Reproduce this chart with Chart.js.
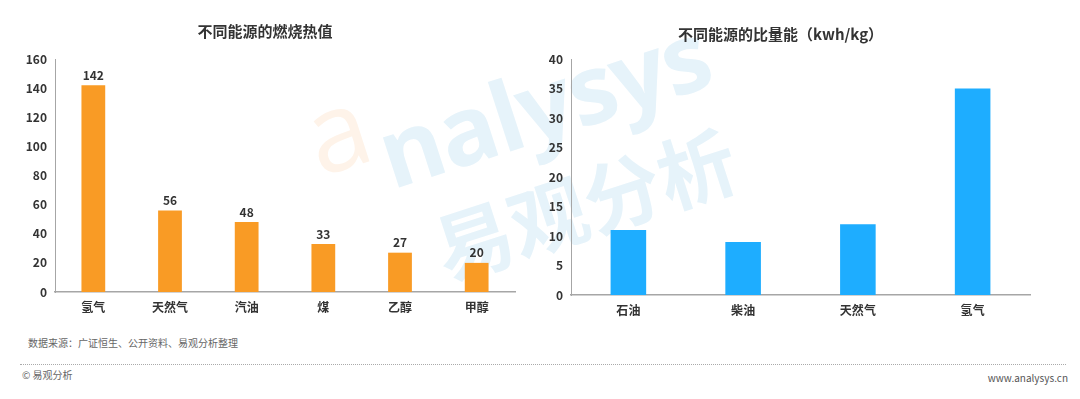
<!DOCTYPE html>
<html>
<head>
<meta charset="utf-8">
<script src="https://cdn.jsdelivr.net/npm/chart.js@4/dist/chart.umd.min.js"></script>
<style>
  html, body { margin: 0; padding: 0; background: #fff; }
  body { width: 1080px; height: 399px; position: relative; overflow: hidden;
         font-family: "Noto Sans CJK SC", "Noto Sans", sans-serif; }
  .box { position: absolute; }
  .wm { position: absolute; white-space: nowrap; pointer-events: none; font-weight: 700; }
  .note { position: absolute; font-size: 10px; color: #666; white-space: nowrap; }
  .rule { position: absolute; left: 20px; right: 14px; top: 364px; border-top: 1px dotted #aaa; }
</style>
</head>
<body>
<!-- faint watermark behind the charts -->
<div class="wm" style="left:305px;top:52px;font-size:110px;color:#fef3e9;transform:rotate(-18deg);font-family:'Open Sans',sans-serif;font-weight:400;">a</div>
<div class="wm" style="left:372px;top:36px;font-size:96px;color:#e6f3fa;transform:rotate(-18deg);font-family:'Open Sans',sans-serif;letter-spacing:-2px;">nalysys</div>
<div class="wm" style="left:428px;top:145px;font-size:78px;color:#e6f3fa;transform:rotate(-18deg);">易观分析</div>

<div class="box" style="left:15px;top:6px;width:520px;height:316px;"><canvas id="chart-heat"></canvas></div>
<div class="box" style="left:531px;top:6px;width:524px;height:319px;"><canvas id="chart-energy"></canvas></div>

<div class="note" style="left:28px;top:335px;">数据来源：广证恒生、公开资料、易观分析整理</div>
<div class="rule"></div>
<div class="note" style="left:22px;top:367px;">© 易观分析</div>
<div class="note" style="right:12px;top:370px;color:#555;">www.analysys.cn</div>

<script>
const heatLabels = ["氢气", "天然气", "汽油", "煤", "乙醇", "甲醇"];
const heatValues = [142, 56, 48, 33, 27, 20];

const energyLabels = ["石油", "柴油", "天然气", "氢气"];
const energyValues = [11, 9, 12, 35];

(function () {
  "use strict";
  const FONT = '"Noto Sans CJK SC", "Noto Sans", sans-serif';
  const TEXT = "#333";
  const AXIS = "#a6a6a6";

  // value labels above the bars (left chart only)
  const valueLabels = {
    id: "valueLabels",
    afterDatasetsDraw(chart) {
      const ctx = chart.ctx;
      const meta = chart.getDatasetMeta(0);
      ctx.save();
      ctx.font = "bold 12px " + FONT;
      ctx.fillStyle = TEXT;
      ctx.textAlign = "center";
      ctx.textBaseline = "bottom";
      meta.data.forEach((bar, i) => {
        ctx.fillText(chart.data.datasets[0].data[i], bar.x, bar.y - 4);
      });
      ctx.restore();
    },
  };

  function options(title, titlePad, max, step, rightPad) {
    return {
      responsive: true,
      maintainAspectRatio: false,
      animation: false,
      layout: { padding: { right: rightPad, bottom: 0 } },
      plugins: {
        legend: { display: false },
        tooltip: { enabled: false },
        title: {
          display: true,
          text: title,
          color: TEXT,
          font: { family: FONT, size: 15, weight: "bold" },
          padding: titlePad,
        },
      },
      scales: {
        x: {
          grid: { display: false, drawTicks: false },
          border: { color: AXIS, width: 1.5 },
          ticks: { color: TEXT, padding: 8, font: { family: FONT, size: 12, weight: "bold" } },
          afterFit(scale) { scale.height = 30; },
        },
        y: {
          min: 0,
          max: max,
          grid: { display: false, drawTicks: false },
          border: { color: AXIS, width: 1 },
          ticks: { stepSize: step, color: TEXT, padding: 8, font: { family: FONT, size: 12, weight: "bold" } },
          afterFit(scale) { scale.width = 40; },
        },
      },
    };
  }

  new Chart(document.getElementById("chart-heat"), {
    type: "bar",
    data: {
      labels: heatLabels,
      datasets: [{ data: heatValues, backgroundColor: "#f99b25", categoryPercentage: 1, barPercentage: 0.31 }],
    },
    options: options("不同能源的燃烧热值", { top: 16, bottom: 19 }, 160, 20, 20),
    plugins: [valueLabels],
  });

  new Chart(document.getElementById("chart-energy"), {
    type: "bar",
    data: {
      labels: energyLabels,
      datasets: [{ data: energyValues, backgroundColor: "#1eadff", categoryPercentage: 1, barPercentage: 0.31 }],
    },
    options: options("不同能源的比量能（kwh/kg）", { top: 19, bottom: 16 }, 40, 5, 25),
  });
})();
</script>
</body>
</html>
